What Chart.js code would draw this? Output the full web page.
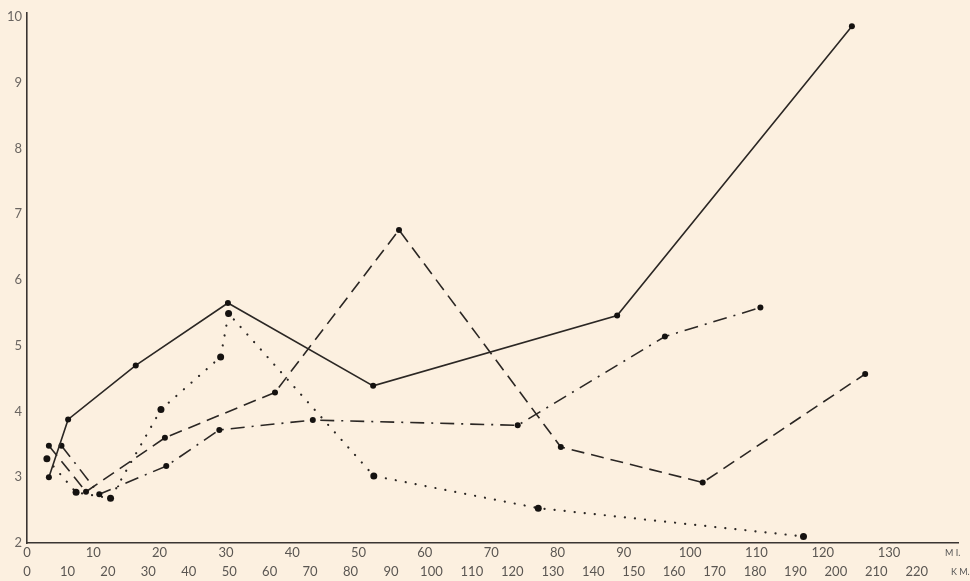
<!DOCTYPE html>
<html>
<head>
<meta charset="utf-8">
<script src="https://cdn.jsdelivr.net/npm/chart.js@4/dist/chart.umd.min.js"></script>
<style>
  html, body { margin: 0; padding: 0; background: #fcf0e0; }
  #wrap { width: 970px; height: 581px; position: relative; }
</style>
</head>
<body>
<div id="wrap"><canvas id="c" width="970" height="581"></canvas></div>
<script>
// Distance in miles (x) against measured value (y) for four routes.
const solidMi   = [3.3, 6.2, 16.4, 30.3, 52.2, 89.0, 124.4];
const solidVal  = [3.00, 3.88, 4.70, 5.65, 4.39, 5.46, 9.86];

const dashedMi  = [3.3, 8.9, 20.8, 37.4, 56.1, 80.5, 101.9, 126.4];
const dashedVal = [3.48, 2.78, 3.60, 4.29, 6.76, 3.46, 2.92, 4.57];

const dashDotMi  = [5.2, 10.9, 21.0, 29.0, 43.1, 74.0, 96.2, 110.6];
const dashDotVal = [3.48, 2.74, 3.17, 3.72, 3.87, 3.79, 5.14, 5.58];

const dottedMi  = [3.0, 7.4, 12.6, 20.2, 29.2, 30.4, 52.3, 77.1, 117.1];
const dottedVal = [3.28, 2.77, 2.68, 4.03, 4.83, 5.49, 3.02, 2.53, 2.10];

// Axis tick values
const yTicks  = [2, 3, 4, 5, 6, 7, 8, 9, 10];
const miTicks = [0, 10, 20, 30, 40, 50, 60, 70, 80, 90, 100, 110, 120, 130];
const kmTicks = [0, 10, 20, 30, 40, 50, 60, 70, 80, 90, 100, 110, 120, 130, 140, 150, 160, 170, 180, 190, 200, 210, 220];

const ink = '#2b2724';
const labelFont = { family: 'Lato, "Open Sans", sans-serif', size: 13 };

function pts(xs, ys) { return xs.map((x, i) => ({ x: x, y: ys[i] })); }
function fixedTicks(values) {
  return function (axis) { axis.ticks = values.map(v => ({ value: v })); };
}

// Paper background and the unit captions at the end of the two distance scales
const paperPlugin = {
  id: 'paper',
  beforeDraw(chart) {
    const ctx = chart.ctx;
    ctx.save();
    ctx.fillStyle = '#fcf0e0';
    ctx.fillRect(0, 0, chart.width, chart.height);
    ctx.restore();
  },
  afterDraw(chart) {
    const ctx = chart.ctx;
    const mi = chart.scales.x, km = chart.scales.km;
    ctx.save();
    ctx.fillStyle = '#555';
    ctx.font = '9px Lato, "Open Sans", sans-serif';
    ctx.textBaseline = 'middle';
    ctx.textAlign = 'left';
    ctx.fillText('M I.', mi.right - 13, mi.top + 10);
    ctx.fillText('K M.', km.right - 7, km.top + 10);
    ctx.restore();
  }
};

new Chart(document.getElementById('c'), {
  type: 'line',
  data: {
    datasets: [
      {
        data: pts(solidMi, solidVal),
        borderColor: ink, borderWidth: 1.6,
        pointRadius: 3, pointBackgroundColor: '#151210', pointBorderWidth: 0
      },
      {
        data: pts(dashedMi, dashedVal),
        borderColor: ink, borderWidth: 1.6, borderDash: [13, 7],
        pointRadius: 3, pointBackgroundColor: '#151210', pointBorderWidth: 0
      },
      {
        data: pts(dashDotMi, dashDotVal),
        borderColor: ink, borderWidth: 1.6, borderDash: [14, 7, 2, 7],
        pointRadius: 3, pointBackgroundColor: '#151210', pointBorderWidth: 0
      },
      {
        data: pts(dottedMi, dottedVal),
        borderColor: ink, borderWidth: 2.2, borderDash: [0.1, 10], borderCapStyle: 'round',
        pointRadius: 3.5, pointBackgroundColor: '#151210', pointBorderWidth: 0
      }
    ]
  },
  options: {
    responsive: false,
    animation: false,
    events: [],
    clip: false,
    layout: { padding: { top: 13, right: 12, bottom: 0, left: 0 } },
    plugins: { legend: { display: false }, tooltip: { enabled: false } },
    elements: { line: { tension: 0, fill: false } },
    scales: {
      x: {
        type: 'linear', position: 'bottom', weight: 0,
        min: 0, max: 140.4,
        afterBuildTicks: fixedTicks(miTicks),
        afterFit(s) { s.height = 19; },
        grid: { display: false, drawTicks: false },
        border: { display: true, color: '#3a3532', width: 1.6 },
        ticks: { color: '#5a5652', font: labelFont, padding: 2, maxRotation: 0, autoSkip: false }
      },
      km: {
        type: 'linear', axis: 'x', position: 'bottom', weight: 1,
        min: 0, max: 230.2,
        afterBuildTicks: fixedTicks(kmTicks),
        afterFit(s) { s.height = 19; },
        grid: { display: false, drawTicks: false },
        border: { display: false },
        ticks: { color: '#5a5652', font: labelFont, padding: 2, maxRotation: 0, autoSkip: false }
      },
      y: {
        type: 'linear', position: 'left',
        min: 2, max: 10.06,
        afterBuildTicks: fixedTicks(yTicks),
        afterFit(s) { s.width = 27; },
        grid: { display: false, drawTicks: false },
        border: { display: true, color: '#3a3532', width: 1.6 },
        ticks: { color: '#6a6561', font: labelFont, padding: 5 }
      }
    }
  },
  plugins: [paperPlugin]
});
</script>
</body>
</html>
